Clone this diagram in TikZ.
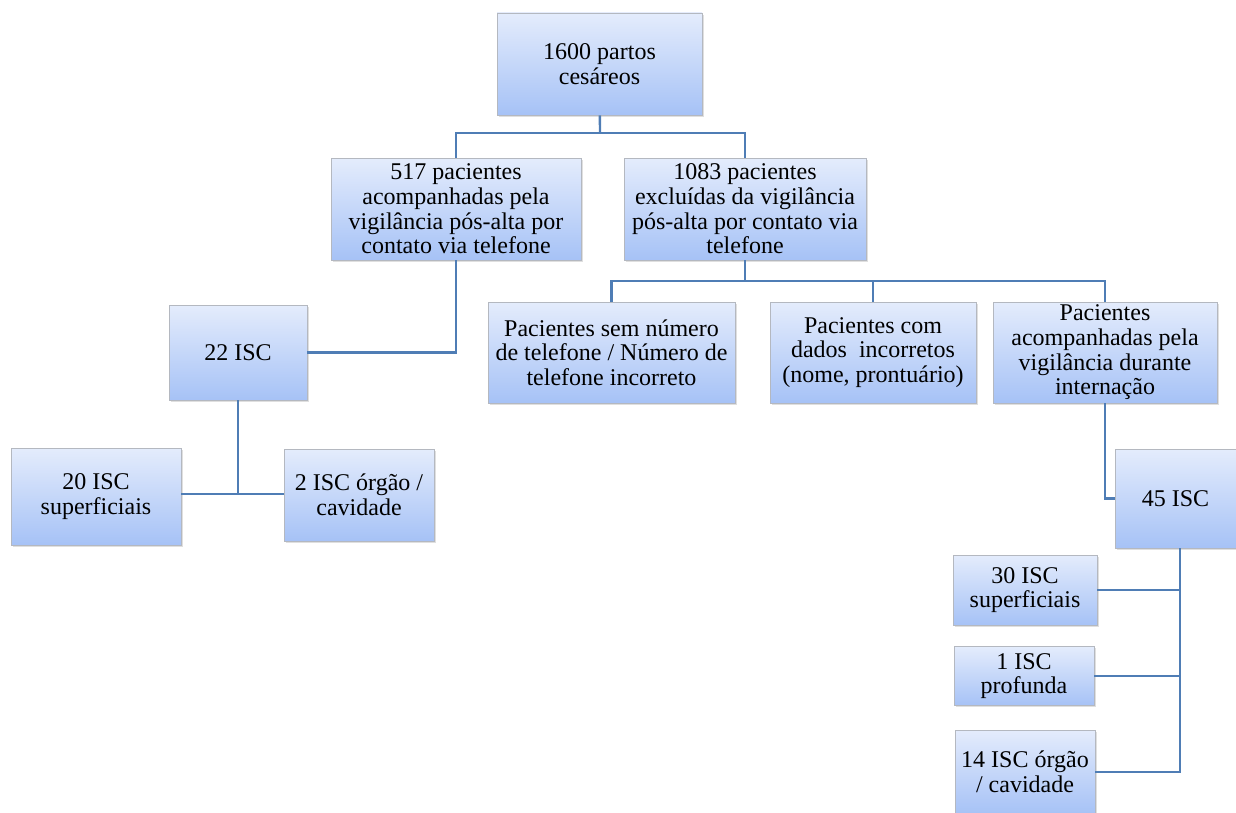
\documentclass[tikz,border=0pt]{standalone}
\usepackage{fontspec}
\setmainfont{Liberation Serif}
\usetikzlibrary{shadows}

\definecolor{boxtop}{HTML}{E4ECFC}
\definecolor{boxbot}{HTML}{A6C2F6}
\definecolor{boxline}{HTML}{B4B8C0}
\definecolor{link}{HTML}{4F7DB5}

\begin{document}
\begin{tikzpicture}[x=0.5pt,y=-0.5pt]
  \tikzstyle{block}=[draw=boxline,line width=0.4pt,top color=boxtop,bottom color=boxbot,
    drop shadow={opacity=0.25,shadow xshift=0.8pt,shadow yshift=-0.8pt},
    align=center,inner sep=0pt,font=\rmfamily\fontsize{12}{12.3}\selectfont]
  \tikzstyle{link}=[draw=link,line width=1.2pt]
  \useasboundingbox (0,0) rectangle (1236,813);

  % Top level
  \node[block,minimum width=102.5pt,minimum height=51pt] (partos) at (599.5,64) {1600 partos\\cesáreos};

  % Second level
  \node[block,minimum width=125pt,minimum height=51pt] (acomp) at (456,209) {517 pacientes\\acompanhadas pela\\vigilância pós-alta por\\contato via telefone};
  \node[block,minimum width=121pt,minimum height=51pt] (excl) at (745,209) {1083 pacientes\\excluídas da vigilância\\pós-alta por contato via\\telefone};

  % Left branch
  \node[block,minimum width=69pt,minimum height=47.5pt] (isc22) at (238,352.5) {22 ISC};
  \node[block,minimum width=85pt,minimum height=48.5pt] (sup20) at (96,496.5) {20 ISC\\superficiais};
  \node[block,minimum width=75pt,minimum height=46pt] (org2) at (359,495) {2 ISC órgão /\\cavidade};

  % Excluded patients
  \node[block,minimum width=123.5pt,minimum height=50.5pt] (semtel) at (611.5,352.5) {Pacientes sem número\\de telefone / Número de\\telefone incorreto};
  \node[block,minimum width=103pt,minimum height=50.5pt] (dados) at (873,352.5) {Pacientes com\\dados~~incorretos\\(nome, prontuário)};
  \node[block,minimum width=112pt,minimum height=50.5pt] (intern) at (1105,352.5) {Pacientes\\acompanhadas pela\\vigilância durante\\internação};

  % Right branch
  \node[block,minimum width=60.5pt,minimum height=49.5pt] (isc45) at (1175.5,498.5) {45 ISC};
  \node[block,minimum width=72pt,minimum height=35pt] (sup30) at (1025,590) {30 ISC\\superficiais};
  \node[block,minimum width=70pt,minimum height=29.5pt] (prof1) at (1024,676) {1 ISC\\profunda};
  \node[block,minimum width=70pt,minimum height=42pt] (org14) at (1025,772) {14 ISC órgão\\/ cavidade};

  % Connectors
  \coordinate (j1) at (600,133);
  \draw[link] (partos) -- (j1);
  \draw[link] (acomp.north) |- (j1) -| (excl.north);

  \draw[link] (acomp.south) |- (isc22.east);

  \coordinate (j2) at (238,494);
  \draw[link] (isc22) -- (j2);
  \draw[link] (sup20.east |- j2) -- (org2.west |- j2);

  \coordinate (j3) at (745,281);
  \draw[link] (excl) -- (j3);
  \draw[link] (semtel.north) |- (j3) -| (intern.north);
  \draw[link] (dados.north) -- (dados.north |- j3);

  \draw[link] (intern.south) |- (isc45.west);

  \coordinate (j4) at (1180,772);
  \draw[link] (isc45.south -| j4) -- (j4) -- (org14.east);
  \draw[link] (sup30.east) -- (sup30.east -| j4);
  \draw[link] (prof1.east) -- (prof1.east -| j4);
\end{tikzpicture}
\end{document}
